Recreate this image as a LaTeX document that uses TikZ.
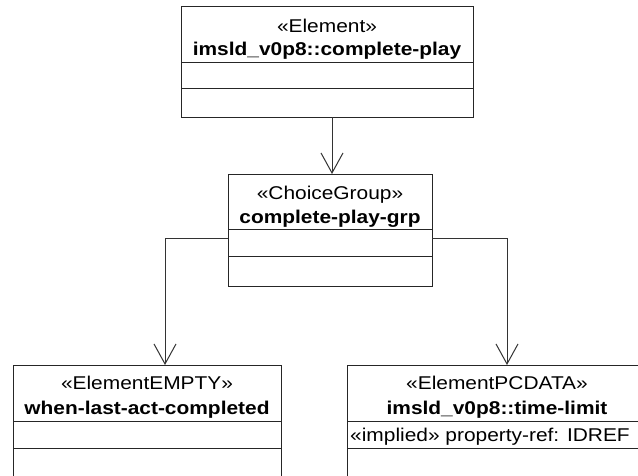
\documentclass[tikz,border=0pt]{standalone}
\usepackage{fontspec}
\setmainfont{Liberation Sans}[FakeStretch=1.13]
\usetikzlibrary{arrows.meta,calc}
\begin{document}
\begin{tikzpicture}[x=1pt,y=-1pt,
  umlbox/.style={draw=black!85, line width=1pt, rectangle, inner sep=0pt, outer sep=0pt, anchor=north west},
  stereo/.style={anchor=base, inner sep=0pt, font=\fontsize{18.5}{22}\selectfont},
  cname/.style={anchor=base, inner sep=0pt, font=\fontsize{18.5}{22}\selectfont\bfseries},
  attr/.style={anchor=base west, inner sep=0pt, font=\fontsize{18.5}{22}\selectfont},
  divider/.style={draw=black!85, line width=1pt},
  conn/.style={draw=black!80, line width=1pt},
  gen/.style={conn, -{Straight Barb[length=20pt,width=22pt]}}]
\useasboundingbox (0,0) rectangle (638,475);
\clip (0,0) rectangle (638,475);

% top class
\node[umlbox, minimum width=292pt, minimum height=111pt] (play) at (181,6) {};
\draw[divider] ($(play.north west)+(0,56)$) -- ($(play.north east)+(0,56)$);
\draw[divider] ($(play.north west)+(0,82)$) -- ($(play.north east)+(0,82)$);
\node[stereo] (playS) at ($(play.north)+(0,26)$) {«Element»};
\node[cname] (playN) at ($(play.north)+(0,49)$) {imsld\_v0p8::complete-play};

% choice group
\node[umlbox, minimum width=204pt, minimum height=112pt] (choice) at (228,174) {};
\draw[divider] ($(choice.north west)+(0,55)$) -- ($(choice.north east)+(0,55)$);
\draw[divider] ($(choice.north west)+(0,82)$) -- ($(choice.north east)+(0,82)$);
\node[stereo] (choiceS) at ($(choice.north)+(0,25)$) {«ChoiceGroup»};
\node[cname] (choiceN) at ($(choice.north)+(0,49)$) {complete-play-grp};

% bottom left
\node[umlbox, minimum width=268pt, minimum height=130pt] (when) at (13,365) {};
\draw[divider] ($(when.north west)+(0,56)$) -- ($(when.north east)+(0,56)$);
\draw[divider] ($(when.north west)+(0,83)$) -- ($(when.north east)+(0,83)$);
\node[stereo] (whenS) at ($(when.north)+(0,24)$) {«ElementEMPTY»};
\node[cname] (whenN) at ($(when.north)+(0,49)$) {when-last-act-completed};

% bottom right
\node[umlbox, minimum width=300pt, minimum height=130pt] (limit) at (347,365) {};
\draw[divider] ($(limit.north west)+(0,56)$) -- ($(limit.north east)+(0,56)$);
\draw[divider] ($(limit.north west)+(0,83)$) -- ($(limit.north east)+(0,83)$);
\node[stereo] (limitS) at ($(limit.north)+(0,24)$) {«ElementPCDATA»};
\node[cname] (limitN) at ($(limit.north)+(0,49)$) {imsld\_v0p8::time-limit};
\node[attr] (limitA) at ($(limit.north west)+(3,76)$) {«implied» property-ref: IDREF};

% connectors
\coordinate (ax) at (332,0);
\coordinate (ry) at (0,238);
\coordinate (lx) at (165,0);
\coordinate (rx) at (507,0);
\draw[gen] (play.south -| ax) -- (choice.north -| ax);
\draw[gen] (choice.west |- ry) -| (when.north -| lx);
\draw[gen] (choice.east |- ry) -| (limit.north -| rx);
\end{tikzpicture}
\end{document}
